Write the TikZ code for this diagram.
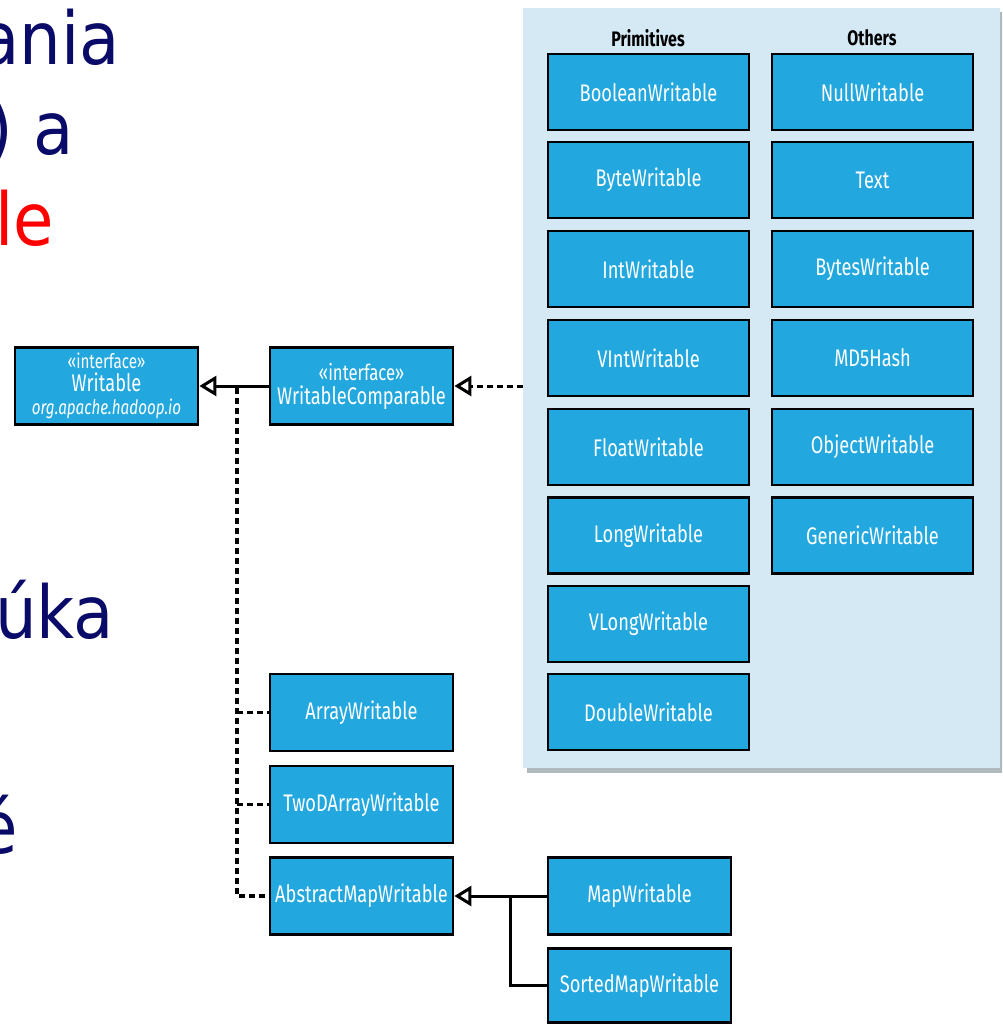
\documentclass[tikz,border=0pt]{standalone}
\usepackage{fontspec}
\setmainfont{DejaVu Sans}
\newfontfamily\boxfont[FakeStretch=0.76]{Fira Sans}
\newfontfamily\bigfont[FakeStretch=0.9]{DejaVu Sans}
\usetikzlibrary{arrows.meta}
\definecolor{boxblue}{RGB}{34,167,223}
\definecolor{panelblue}{RGB}{212,233,244}
\definecolor{navy}{RGB}{10,10,105}
\definecolor{shadowgray}{RGB}{175,185,190}
\tikzset{
  cls/.style={draw=black, line width=2.8pt, fill=boxblue, text=white,
    minimum width=183pt, minimum height=77pt, inner sep=0pt, align=center,
    font=\boxfont\fontsize{24}{26}\selectfont},
  prim/.style={cls, minimum width=201pt, minimum height=76pt},
  hdr/.style={font=\boxfont\bfseries\fontsize{21}{22}\selectfont, text=black, inner sep=0pt},
  gen/.style={draw=black, line width=3pt, -{Triangle[length=17pt, width=20pt, fill=white, line width=3pt]}},
  realz/.style={gen, dash pattern=on 6pt off 4pt},
  dline/.style={draw=black, line width=3.2pt, dash pattern=on 6pt off 4pt},
  sline/.style={draw=black, line width=3pt},
  big/.style={font=\bigfont\fontsize{73}{80}\selectfont, text=navy, anchor=base east, inner sep=0pt},
}
\begin{document}
\begin{tikzpicture}[x=1pt, y=-1pt]
\useasboundingbox (0,0) rectangle (1002,1024);
\clip (0,0) rectangle (1002,1024);
\fill[white] (0,0) rectangle (1002,1024);

% left cut-off text
\node[big] (t1) at (120,65) {ania};
\node[big] (t2) at (74,155) {) a};
\node[big, text=red] (t3) at (54,245) {le};
\node[big] (t4) at (114,638) {úka};
\node[big] (t5) at (18,853) {é};

% panel
\fill[shadowgray] (527,12) rectangle (1004,773);
\node[fill=panelblue, minimum width=477pt, minimum height=760pt, inner sep=0pt] (panel) at (761.5,388) {};

\node[hdr] (hp) at (648,38) {Primitives};
\node[hdr] (ho) at (872,38) {Others};

\node[prim] (p1) at (648.5,92) {BooleanWritable};
\node[prim] (p2) at (648.5,180) {ByteWritable};
\node[prim] (p3) at (648.5,269) {IntWritable};
\node[prim] (p4) at (648.5,358) {VIntWritable};
\node[prim] (p5) at (648.5,447) {FloatWritable};
\node[prim] (p6) at (648.5,535.5) {LongWritable};
\node[prim] (p7) at (648.5,624) {VLongWritable};
\node[prim] (p8) at (648.5,712) {DoubleWritable};

\node[prim] (o1) at (872.5,92) {NullWritable};
\node[prim] (o2) at (872.5,180) {Text};
\node[prim] (o3) at (872.5,269) {BytesWritable};
\node[prim] (o4) at (872.5,358) {MD5Hash};
\node[prim] (o5) at (872.5,447) {ObjectWritable};
\node[prim] (o6) at (872.5,535.5) {GenericWritable};

% left classes
\node[cls] (w) at (106.5,386) {{\fontsize{20}{21}\selectfont «interface»}\\[-3pt]Writable\\[-3pt]{\itshape\fontsize{20}{21}\selectfont org.apache.hadoop.io}};
\node[cls] (wc) at (361.5,386) {{\fontsize{22}{23}\selectfont «interface»}\\[-2pt]WritableComparable};
\node[cls] (aw) at (361.5,712.5) {ArrayWritable};
\node[cls] (tw) at (361.5,804.5) {TwoDArrayWritable};
\node[cls] (amw) at (361.5,896) {AbstractMapWritable};
\node[cls] (mw) at (639.5,896) {MapWritable};
\node[cls, minimum height=74pt] (smw) at (639.5,985.5) {SortedMapWritable};

% connectors
\draw[gen] (wc.west) -- (w.east);
\coordinate (pj) at (wc.east -| panel.west);
\draw[realz] (pj) -- (wc.east);
\coordinate (j1) at (237,388);
\coordinate (jb) at (237,896);
\draw[dline] (j1) -- (jb) -- (amw.west);
\draw[dline] (aw.west -| j1) -- (aw.west);
\draw[dline] (tw.west -| j1) -- (tw.west);
\draw[gen] (mw.west) -- (amw.east);
\coordinate (j2) at (510,896);
\draw[sline] (smw.west) -| (j2);
\end{tikzpicture}
\end{document}
